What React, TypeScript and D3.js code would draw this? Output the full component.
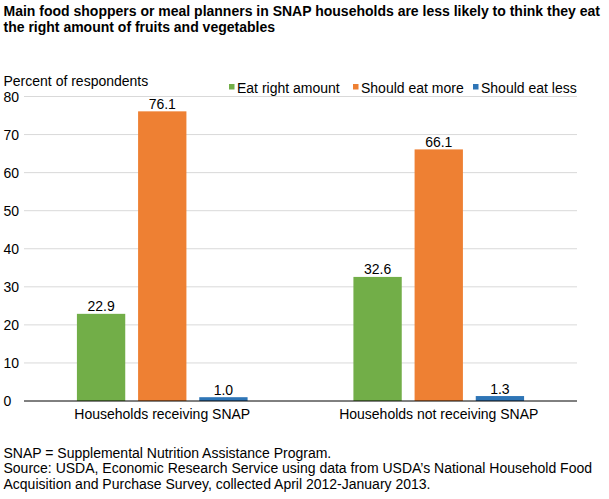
import React from "react";
import * as d3 from "d3";

const categories = ["Households receiving SNAP", "Households not receiving SNAP"];
const seriesNames = ["Eat right amount", "Should eat more", "Should eat less"];
const eatRight = [22.9, 32.6];
const eatMore = [76.1, 66.1];
const eatLess = [1.0, 1.3];
const yTicks = [0, 10, 20, 30, 40, 50, 60, 70, 80];
const colors = ["#72ae48", "#ee8033", "#2e75b6"];

const titleLines = [
  "Main food shoppers or meal planners in SNAP households are less likely to think they eat",
  "the right amount of fruits and vegetables",
];
const footLines = [
  "SNAP = Supplemental Nutrition Assistance Program.",
  "Source: USDA, Economic Research Service using data from USDA\u2019s National Household Food",
  "Acquisition and Purchase Survey, collected April 2012-January 2013.",
];

const W = 609;
const H = 499;
const FONT = "'Liberation Sans', Arial, Helvetica, sans-serif";
const FS = 14;

export default function App() {
  const values = [eatRight, eatMore, eatLess];
  const x0 = d3.scaleBand<string>().domain(categories).range([24, 577]).paddingInner(0).paddingOuter(0);
  const x1 = d3
    .scaleBand<string>()
    .domain(seriesNames)
    .range([0, x0.bandwidth()])
    .paddingInner(0.21)
    .paddingOuter(0.865);
  const y = d3.scaleLinear().domain([0, 80]).range([401, 96.5]);

  const legendX = [229, 353, 473];

  return (
    <svg
      width={W}
      height={H}
      style={{ position: "absolute", left: 0, top: 0, background: "#fff" }}
      fontFamily={FONT}
    >
      <rect width={W} height={H} fill="#fff" />
      {titleLines.map((t, i) => (
        <text key={i} x={3.5} y={16 + i * 16} fontSize={FS} fontWeight="bold" fill="#000">
          {t}
        </text>
      ))}
      <text x={3.5} y={86} fontSize={FS} fill="#000">
        Percent of respondents
      </text>
      {seriesNames.map((s, i) => (
        <g key={s}>
          <rect x={legendX[i]} y={84} width={5.5} height={5.5} fill={colors[i]} />
          <text x={legendX[i] + 8} y={92.5} fontSize={FS} fill="#000">
            {s}
          </text>
        </g>
      ))}
      {yTicks.map((t) => (
        <g key={t}>
          {t !== 0 && (
            <line x1={24} x2={577} y1={y(t)} y2={y(t)} stroke="#d9d9d9" strokeWidth={1} />
          )}
          <text x={3.5} y={y(t) + 5} fontSize={FS} fill="#000">
            {t}
          </text>
        </g>
      ))}
      {categories.map((c, ci) => (
        <g key={c} transform={`translate(${x0(c)},0)`}>
          {seriesNames.map((s, si) => {
            const v = values[si][ci];
            const bx = x1(s)!;
            return (
              <g key={s}>
                <rect
                  x={bx}
                  y={y(v)}
                  width={x1.bandwidth()}
                  height={y(0) - y(v)}
                  fill={colors[si]}
                />
                <text
                  x={bx + x1.bandwidth() / 2}
                  y={y(v) - 2.5}
                  fontSize={FS}
                  textAnchor="middle"
                  fill="#000"
                >
                  {v.toFixed(1)}
                </text>
              </g>
            );
          })}
          <text x={x0.bandwidth() / 2} y={418.5} fontSize={FS} textAnchor="middle" fill="#000">
            {c}
          </text>
        </g>
      ))}
      <line x1={24} x2={577} y1={y(0)} y2={y(0)} stroke="#000" strokeWidth={1} />
      {footLines.map((t, i) => (
        <text key={i} x={3.5} y={457.5 + i * 15.6} fontSize={FS} fill="#000">
          {t}
        </text>
      ))}
    </svg>
  );
}
